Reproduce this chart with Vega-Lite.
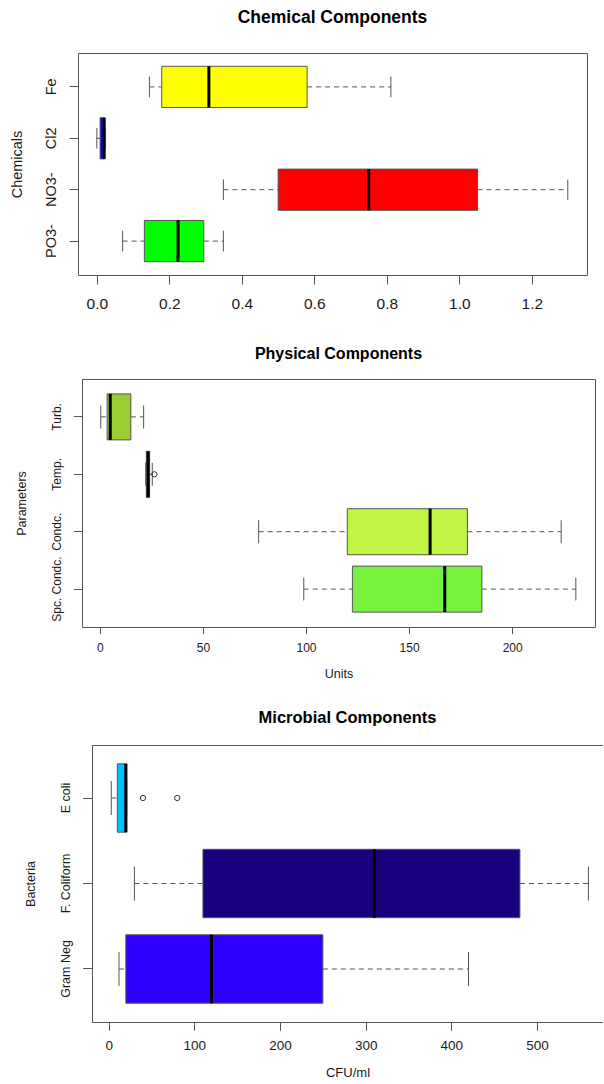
{
  "$schema": "https://vega.github.io/schema/vega-lite/v6.json",
  "padding": {"left": 0, "top": 8, "right": 0, "bottom": 0},
  "background": "white",
  "config": {
    "font": "Liberation Sans",
    "view": {"stroke": null},
    "axis": {"labelColor": "#1a1a1a", "titleColor": "#1a1a1a", "tickColor": "#555", "domainColor": "#555", "titleFontWeight": "normal", "grid": false, "labelFlush": false, "labelOverlap": false}
  },
  "spacing": 28,
  "resolve": {"scale": {"color": "independent"}},
  "vconcat": [
    {
      "spacing": 0,
      "hconcat": [
        {"width": 9, "height": 264, "data": {"values": []}, "mark": {"type": "point"}, "encoding": {}},
        {
          "width": 509, "height": 222,
          "view": {"stroke": "#555", "strokeWidth": 1},
          "title": {"text": "Chemical Components", "fontSize": 17.5, "fontWeight": "bold", "color": "#000", "anchor": "middle", "frame": "group", "baseline": "middle", "offset": 18},
          "data": {"values": [
            {"cat": "Fe", "lo": 0.145, "q1": 0.179, "med": 0.309, "q3": 0.58, "hi": 0.811},
            {"cat": "Cl2", "lo": 0.0, "q1": 0.009, "med": 0.02, "q3": 0.022, "hi": 0.023},
            {"cat": "NO3-", "lo": 0.349, "q1": 0.5, "med": 0.75, "q3": 1.05, "hi": 1.299},
            {"cat": "PO3-", "lo": 0.071, "q1": 0.131, "med": 0.224, "q3": 0.295, "hi": 0.349}
          ]},
          "resolve": {"axis": {"x": "independent"}},
          "encoding": {
            "y": {"field": "cat", "type": "nominal",
              "scale": {"domain": ["Fe", "Cl2", "NO3-", "PO3-"], "paddingInner": 0, "paddingOuter": 0.16},
              "axis": {"title": "Chemicals", "titleFontSize": 14.5, "titleX": -60.3, "titleY": 111, "titleAlign": "center", "titleBaseline": "middle", "titleAngle": 270,
                "labelAngle": 270, "labelAlign": "center", "labelBaseline": "middle", "labelPadding": 17.3, "labelFontSize": 14.5,
                "tickSize": 9, "domain": false}}
          },
          "layer": [
            {"mark": {"type": "rule", "strokeDash": [5, 4], "color": "#555", "strokeWidth": 1},
             "encoding": {"x": {"field": "lo", "type": "quantitative", "scale": {"domain": [-0.052, 1.352], "nice": false, "zero": false}, "axis": null}, "x2": {"field": "q1"}}},
            {"mark": {"type": "rule", "strokeDash": [5, 4], "color": "#555", "strokeWidth": 1},
             "encoding": {"x": {"field": "q3", "type": "quantitative", "scale": {"domain": [-0.052, 1.352], "nice": false, "zero": false}, "axis": null}, "x2": {"field": "hi"}}},
            {"mark": {"type": "tick", "size": 20.6, "thickness": 1, "color": "#555", "opacity": 1},
             "encoding": {"x": {"field": "lo", "type": "quantitative", "scale": {"domain": [-0.052, 1.352], "nice": false, "zero": false}, "axis": null}}},
            {"mark": {"type": "tick", "size": 20.6, "thickness": 1, "color": "#555", "opacity": 1},
             "encoding": {"x": {"field": "hi", "type": "quantitative", "scale": {"domain": [-0.052, 1.352], "nice": false, "zero": false}, "axis": null}}},
            {"mark": {"type": "bar", "size": 41.2, "stroke": "#555", "strokeWidth": 1, "opacity": 1},
             "encoding": {
               "x": {"field": "q1", "type": "quantitative", "scale": {"domain": [-0.052, 1.352], "nice": false, "zero": false},
                 "axis": {"orient": "bottom", "title": null, "values": [0, 0.2, 0.4, 0.6, 0.8, 1.0, 1.2], "format": ".1f", "labelFontSize": 15.5, "labelBaseline": "middle", "labelPadding": 19.7, "tickSize": 9, "domain": false}},
               "x2": {"field": "q3"},
               "color": {"field": "cat", "type": "nominal", "scale": {"domain": ["Fe", "Cl2", "NO3-", "PO3-"], "range": ["#FFFF00", "#0000FF", "#FF0000", "#00FF00"]}, "legend": null}}},
            {"mark": {"type": "tick", "size": 41.2, "thickness": 3, "color": "#000", "opacity": 1},
             "encoding": {"x": {"field": "med", "type": "quantitative", "scale": {"domain": [-0.052, 1.352], "nice": false, "zero": false}, "axis": null}}}
          ]
        }
      ]
    },
    {
      "spacing": 0,
      "hconcat": [
        {"width": 14, "height": 10, "data": {"values": []}, "mark": {"type": "point"}, "encoding": {}},
        {
          "width": 513, "height": 248,
          "view": {"stroke": "#555", "strokeWidth": 1},
          "title": {"text": "Physical Components", "fontSize": 16, "fontWeight": "bold", "color": "#000", "anchor": "middle", "frame": "group", "baseline": "middle", "offset": 8.7},
          "data": {"values": [
            {"cat": "Turb.", "lo": 0.4, "q1": 3.5, "med": 5.0, "q3": 15, "hi": 21.2},
            {"cat": "Temp.", "lo": 22.2, "q1": 22.5, "med": 23.4, "q3": 24.1, "hi": 25.4},
            {"cat": "Condc.", "lo": 77, "q1": 120, "med": 160.2, "q3": 178.3, "hi": 223.8},
            {"cat": "Spc. Condc.", "lo": 98.9, "q1": 122.5, "med": 167.3, "q3": 185.3, "hi": 230.9}
          ]},
          "resolve": {"axis": {"x": "independent"}},
          "encoding": {
            "y": {"field": "cat", "type": "nominal",
              "scale": {"domain": ["Turb.", "Temp.", "Condc.", "Spc. Condc."], "paddingInner": 0, "paddingOuter": 0.16},
              "axis": {"title": "Parameters", "titleFontSize": 12.5, "titleX": -60.6, "titleY": 124, "titleAlign": "center", "titleBaseline": "middle", "titleAngle": 270,
                "labelAngle": 270, "labelAlign": "center", "labelBaseline": "middle", "labelPadding": 16.8, "labelFontSize": 12,
                "tickSize": 8.7, "domain": false}}
          },
          "layer": [
            {"mark": {"type": "rule", "strokeDash": [5, 4], "color": "#555", "strokeWidth": 1},
             "encoding": {"x": {"field": "lo", "type": "quantitative", "scale": {"domain": [-8.7, 240.2], "nice": false, "zero": false}, "axis": null}, "x2": {"field": "q1"}}},
            {"mark": {"type": "rule", "strokeDash": [5, 4], "color": "#555", "strokeWidth": 1},
             "encoding": {"x": {"field": "q3", "type": "quantitative", "scale": {"domain": [-8.7, 240.2], "nice": false, "zero": false}, "axis": null}, "x2": {"field": "hi"}}},
            {"mark": {"type": "tick", "size": 23, "thickness": 1, "color": "#555", "opacity": 1},
             "encoding": {"x": {"field": "lo", "type": "quantitative", "scale": {"domain": [-8.7, 240.2], "nice": false, "zero": false}, "axis": null}}},
            {"mark": {"type": "tick", "size": 23, "thickness": 1, "color": "#555", "opacity": 1},
             "encoding": {"x": {"field": "hi", "type": "quantitative", "scale": {"domain": [-8.7, 240.2], "nice": false, "zero": false}, "axis": null}}},
            {"mark": {"type": "bar", "size": 46, "stroke": "#555", "strokeWidth": 1, "opacity": 1},
             "encoding": {
               "x": {"field": "q1", "type": "quantitative", "scale": {"domain": [-8.7, 240.2], "nice": false, "zero": false},
                 "axis": {"orient": "bottom", "title": "Units", "titleFontSize": 12.5, "titleBaseline": "middle", "titleY": 46.7, "values": [0, 50, 100, 150, 200], "labelFontSize": 12, "labelBaseline": "middle", "labelPadding": 13.8, "tickSize": 6.7, "domain": false}},
               "x2": {"field": "q3"},
               "color": {"field": "cat", "type": "nominal", "scale": {"domain": ["Turb.", "Temp.", "Condc.", "Spc. Condc."], "range": ["#9ACD32", "#2F4F2F", "#C0F545", "#76F23F"]}, "legend": null}}},
            {"mark": {"type": "tick", "size": 46, "thickness": 3, "color": "#000", "opacity": 1},
             "encoding": {"x": {"field": "med", "type": "quantitative", "scale": {"domain": [-8.7, 240.2], "nice": false, "zero": false}, "axis": null}}},
            {"data": {"values": [{"cat": "Temp.", "v": 26.4}]},
             "mark": {"type": "point", "shape": "circle", "filled": false, "size": 28, "stroke": "#333", "strokeWidth": 1, "opacity": 1},
             "encoding": {"x": {"field": "v", "type": "quantitative", "scale": {"domain": [-8.7, 240.2], "nice": false, "zero": false}, "axis": null}}}
          ]
        }
      ]
    },
    {
      "spacing": 0,
      "hconcat": [
        {"width": 24, "height": 10, "data": {"values": []}, "mark": {"type": "point"}, "encoding": {}},
        {
          "width": 511, "height": 277,
          "title": {"text": "Microbial Components", "fontSize": 16.5, "fontWeight": "bold", "color": "#000", "anchor": "middle", "frame": "group", "baseline": "middle", "offset": 10.8},
          "data": {"values": [
            {"cat": "E coli", "lo": 3, "q1": 10, "med": 20, "q3": 21, "hi": 21},
            {"cat": "F. Coliform", "lo": 30, "q1": 110, "med": 310, "q3": 480, "hi": 560},
            {"cat": "Gram Neg", "lo": 12, "q1": 20, "med": 120, "q3": 250, "hi": 420}
          ]},
          "resolve": {"axis": {"x": "independent"}},
          "encoding": {
            "y": {"field": "cat", "type": "nominal",
              "scale": {"domain": ["E coli", "F. Coliform", "Gram Neg"], "paddingInner": 0, "paddingOuter": 0.12},
              "axis": {"title": "Bacteria", "titleFontSize": 12.5, "titleX": -62, "titleY": 138.5, "titleAlign": "center", "titleBaseline": "middle", "titleAngle": 270,
                "labelAngle": 270, "labelAlign": "center", "labelBaseline": "middle", "labelPadding": 17.7, "labelFontSize": 12.5,
                "tickSize": 9.3, "domain": true}}
          },
          "layer": [
            {"mark": {"type": "rule", "strokeDash": [5, 4], "color": "#555", "strokeWidth": 1},
             "encoding": {"x": {"field": "lo", "type": "quantitative", "scale": {"domain": [-19.5, 577], "nice": false, "zero": false},
               "axis": {"orient": "top", "labels": false, "ticks": false, "domain": true, "title": null}}, "x2": {"field": "q1"}}},
            {"mark": {"type": "rule", "strokeDash": [5, 4], "color": "#555", "strokeWidth": 1},
             "encoding": {"x": {"field": "q3", "type": "quantitative", "scale": {"domain": [-19.5, 577], "nice": false, "zero": false}, "axis": null}, "x2": {"field": "hi"}}},
            {"mark": {"type": "tick", "size": 34.2, "thickness": 1, "color": "#555", "opacity": 1},
             "encoding": {"x": {"field": "lo", "type": "quantitative", "scale": {"domain": [-19.5, 577], "nice": false, "zero": false}, "axis": null}}},
            {"mark": {"type": "tick", "size": 34.2, "thickness": 1, "color": "#555", "opacity": 1},
             "encoding": {"x": {"field": "hi", "type": "quantitative", "scale": {"domain": [-19.5, 577], "nice": false, "zero": false}, "axis": null}}},
            {"mark": {"type": "bar", "size": 68.4, "stroke": "#555", "strokeWidth": 1, "opacity": 1},
             "encoding": {
               "x": {"field": "q1", "type": "quantitative", "scale": {"domain": [-19.5, 577], "nice": false, "zero": false},
                 "axis": {"orient": "bottom", "title": "CFU/ml", "titleFontSize": 13, "titleBaseline": "middle", "titleY": 50.7, "values": [0, 100, 200, 300, 400, 500], "labelFontSize": 13.5, "labelBaseline": "middle", "labelPadding": 15.1, "tickSize": 8.3, "domain": true}},
               "x2": {"field": "q3"},
               "color": {"field": "cat", "type": "nominal", "scale": {"domain": ["E coli", "F. Coliform", "Gram Neg"], "range": ["#00BFFF", "#18007F", "#3000FF"]}, "legend": null}}},
            {"mark": {"type": "tick", "size": 68.4, "thickness": 3, "color": "#000", "opacity": 1},
             "encoding": {"x": {"field": "med", "type": "quantitative", "scale": {"domain": [-19.5, 577], "nice": false, "zero": false}, "axis": null}}},
            {"data": {"values": [{"cat": "E coli", "v": 40}, {"cat": "E coli", "v": 80}]},
             "mark": {"type": "point", "shape": "circle", "filled": false, "size": 28, "stroke": "#333", "strokeWidth": 1, "opacity": 1},
             "encoding": {"x": {"field": "v", "type": "quantitative", "scale": {"domain": [-19.5, 577], "nice": false, "zero": false}, "axis": null}}}
          ]
        }
      ]
    }
  ]
}
